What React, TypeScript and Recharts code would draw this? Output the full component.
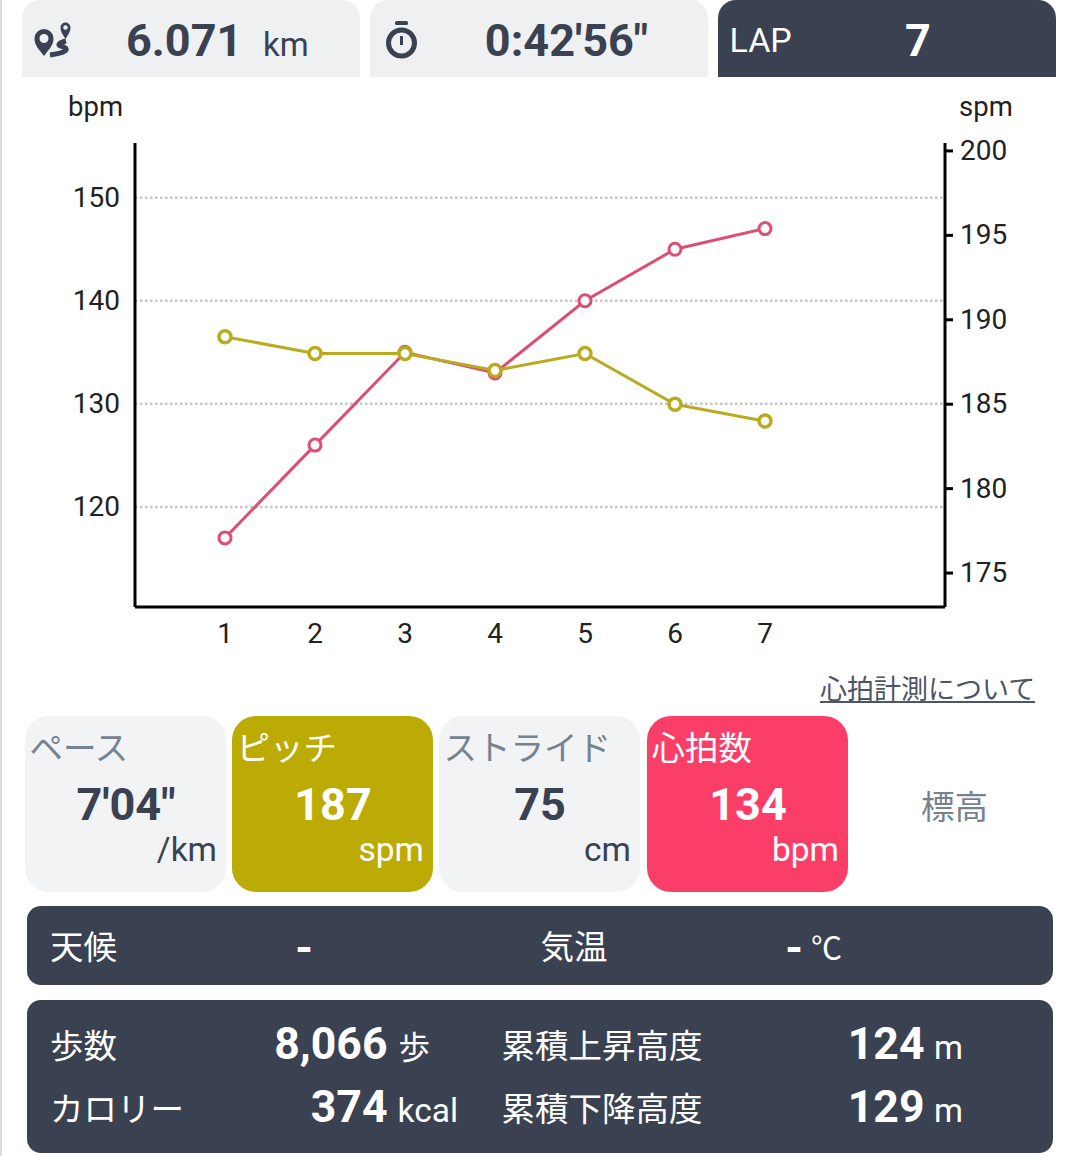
import React from 'react'
import { CartesianGrid, Line, LineChart, XAxis, YAxis } from 'recharts'

const laps = [1, 2, 3, 4, 5, 6, 7]
const heartRate = [117, 126, 135, 133, 140, 145, 147]
const pitch = [189, 188, 188, 187, 188, 185, 184]
const bpmTicks = [120, 130, 140, 150]
const spmTicks = [175, 180, 185, 190, 195, 200]

const chartData = laps.map((lap, i) => ({ lap, bpm: heartRate[i], spm: pitch[i] }))

const DARK = '#3a4150'
const LIGHT = '#eef0f2'
const CARD = '#f1f3f5'
const GREY = '#74838f'
const OLIVE = '#bcab04'
const RED = '#fb3e68'
const FONT = 'Roboto, "Noto Sans CJK JP", sans-serif'

type TextProps = {
    x: number
    y: number
    size?: number
    bold?: boolean
    color?: string
    align?: 'left' | 'right' | 'center'
    children: React.ReactNode
}

// x is the left, right or center edge depending on align, y is the vertical middle of the text
const T = ({ x, y, size = 33.5, bold, color = DARK, align = 'left', children }: TextProps) => {
    const shift = align === 'left' ? '0' : align === 'right' ? '-100%' : '-50%'
    return (
        <div
            style={{
                position: 'absolute',
                left: x,
                top: y,
                transform: `translate(${shift}, -50%)`,
                fontSize: size,
                fontWeight: bold ? 700 : 400,
                color,
                whiteSpace: 'nowrap',
                lineHeight: 1.2,
            }}
        >
            {children}
        </div>
    )
}

const Box = ({ x, y, w, h, color, radius }: { x: number; y: number; w: number; h: number; color: string; radius: string | number }) => (
    <div style={{ position: 'absolute', left: x, top: y, width: w, height: h, background: color, borderRadius: radius }} />
)

const StatCard = ({ x, label, value, unit, bg, labelColor, valueColor }: { x: number; label: string; value: string; unit: string; bg: string; labelColor: string; valueColor: string }) => (
    <>
        <Box x={x} y={716} w={201} h={176} color={bg} radius={24} />
        <T x={x + 4.5} y={749} color={labelColor}>{label}</T>
        <T x={x + 101} y={805} size={45} bold align="center" color={valueColor}>{value}</T>
        <T x={x + 192} y={850} align="right" color={valueColor}>{unit}</T>
    </>
)

const PinIcon = () => (
    <svg style={{ position: 'absolute', left: 30, top: 18 }} width={48} height={44} viewBox="0 0 48 44">
        <path d="M14 38 C8 30 4.5 27 4.5 20.5 A9.5 9.5 0 0 1 23.5 20.5 C23.5 27 20 30 14 38 Z" fill={DARK} />
        <circle cx={14} cy={20.5} r={4.5} fill={LIGHT} />
        <path d="M35.5 21 C32.5 16 30.5 13.5 30.5 9.5 A5 5 0 0 1 40.5 9.5 C40.5 13.5 38.5 16 35.5 21 Z" fill={DARK} />
        <circle cx={35.5} cy={9.5} r={2.2} fill={LIGHT} />
        <path d="M36 23 C27 25 27 28 34 29 C39 31 36 35 20 37" fill="none" stroke={DARK} strokeWidth={5} />
    </svg>
)

const TimerIcon = () => (
    <svg style={{ position: 'absolute', left: 384, top: 20 }} width={36} height={40} viewBox="0 0 36 40">
        <rect x={11} y={1} width={13} height={4} rx={1.5} fill={DARK} />
        <circle cx={17.5} cy={23} r={13} fill="none" stroke={DARK} strokeWidth={5} />
        <rect x={16} y={16} width={3} height={9} fill={DARK} />
    </svg>
)

const App = () => {
    return (
        <div style={{ position: 'absolute', left: 0, top: 0, width: 1080, height: 1156, background: '#fff', fontFamily: FONT, overflow: 'hidden' }}>
            <Box x={0} y={0} w={2} h={1156} color="#dcdcdc" radius={0} />

            <Box x={22} y={0} w={338} h={77} color={LIGHT} radius="18px 18px 0 0" />
            <Box x={370} y={0} w={338} h={77} color={LIGHT} radius="18px 18px 0 0" />
            <Box x={718} y={0} w={338} h={77} color={DARK} radius="18px 18px 0 0" />
            <PinIcon />
            <TimerIcon />
            <T x={126} y={41} size={45} bold>6.071</T>
            <T x={263} y={45} size={33}>km</T>
            <T x={566.5} y={41} size={45} bold align="center">0:42'56"</T>
            <T x={729.5} y={40} size={34} color="#fff">LAP</T>
            <T x={918} y={41} size={45} bold align="center" color="#fff">7</T>

            <T x={68} y={105.5} size={27.5} color="#222">bpm</T>
            <T x={959} y={105.5} size={27.5} color="#222">spm</T>

            <div style={{ position: 'absolute', left: 0, top: 90 }}>
                <LineChart width={1080} height={600} data={chartData} margin={{ top: 53, right: 0, bottom: 0, left: 0 }}>
                    <CartesianGrid yAxisId="bpm" vertical={false} horizontalValues={bpmTicks} stroke="#c6c6c6" strokeWidth={2.5} strokeDasharray="2.5 2.5" />
                    <XAxis
                        dataKey="lap"
                        type="number"
                        domain={[0, 9]}
                        ticks={laps}
                        height={83}
                        tickLine={false}
                        tickSize={0}
                        tickMargin={16}
                        axisLine={{ stroke: '#000', strokeWidth: 3 }}
                        tick={{ fontSize: 28, fill: '#222' }}
                    />
                    <YAxis
                        yAxisId="bpm"
                        width={135}
                        domain={[110.3, 155.3]}
                        ticks={bpmTicks}
                        tickLine={false}
                        tickSize={0}
                        tickMargin={15}
                        axisLine={{ stroke: '#000', strokeWidth: 3 }}
                        tick={{ fontSize: 28, fill: '#222', dy: -1 }}
                    />
                    <YAxis
                        yAxisId="spm"
                        orientation="right"
                        width={135}
                        domain={[172.99, 200.47]}
                        ticks={spmTicks}
                        tickSize={8}
                        tickMargin={7}
                        tickLine={{ stroke: '#000', strokeWidth: 3 }}
                        axisLine={{ stroke: '#000', strokeWidth: 3 }}
                        tick={{ fontSize: 28, fill: '#222', dy: -1 }}
                    />
                    <Line
                        yAxisId="bpm"
                        dataKey="bpm"
                        stroke="#dc4f75"
                        strokeWidth={3}
                        dot={{ r: 6, fill: '#fff', stroke: '#dc4f75', strokeWidth: 3 }}
                        isAnimationActive={false}
                    />
                    <Line
                        yAxisId="spm"
                        dataKey="spm"
                        stroke="#b9ab1f"
                        strokeWidth={3}
                        dot={{ r: 6, fill: '#fff', stroke: '#b9ab1f', strokeWidth: 3.5 }}
                        isAnimationActive={false}
                    />
                </LineChart>
            </div>

            <div style={{ position: 'absolute', left: 820, top: 674, width: 215, height: 27, fontSize: 27, lineHeight: '32px', color: '#4c5665', borderBottom: '2px solid #4c5665', whiteSpace: 'nowrap' }}>心拍計測について</div>

            <StatCard x={25} label="ペース" value={`7'04"`} unit="/km" bg={CARD} labelColor={GREY} valueColor={DARK} />
            <StatCard x={232} label="ピッチ" value="187" unit="spm" bg={OLIVE} labelColor="#fff" valueColor="#fff" />
            <StatCard x={439} label="ストライド" value="75" unit="cm" bg={CARD} labelColor={GREY} valueColor={DARK} />
            <StatCard x={647} label="心拍数" value="134" unit="bpm" bg={RED} labelColor="#fff" valueColor="#fff" />
            <T x={954.5} y={808} align="center" color={GREY}>標高</T>

            <Box x={27} y={906} w={1026} h={79} color={DARK} radius={14} />
            <T x={50} y={948} color="#fff">天候</T>
            <T x={304} y={948} size={45} bold align="center" color="#fff">-</T>
            <T x={540.5} y={948} color="#fff">気温</T>
            <T x={794} y={948} size={45} bold align="center" color="#fff">-</T>
            <T x={811} y={949} size={31} color="#fff">℃</T>

            <Box x={27} y={1000} w={1026} h={153} color={DARK} radius={14} />
            <T x={50} y={1047} color="#fff">歩数</T>
            <T x={387.5} y={1045} size={44.6} bold align="right" color="#fff">8,066</T>
            <T x={398.5} y={1049} size={31.5} color="#fff">歩</T>
            <T x={501.5} y={1047} color="#fff">累積上昇高度</T>
            <T x={924.5} y={1045} size={44.6} bold align="right" color="#fff">124</T>
            <T x={934} y={1048} size={33} color="#fff">m</T>

            <T x={50} y={1109.5} color="#fff">カロリー</T>
            <T x={387.5} y={1107.5} size={44.6} bold align="right" color="#fff">374</T>
            <T x={397.5} y={1111} color="#fff">kcal</T>
            <T x={501.5} y={1109.5} color="#fff">累積下降高度</T>
            <T x={924.5} y={1107.5} size={44.6} bold align="right" color="#fff">129</T>
            <T x={934} y={1111} size={33} color="#fff">m</T>
        </div>
    )
}

export default App
